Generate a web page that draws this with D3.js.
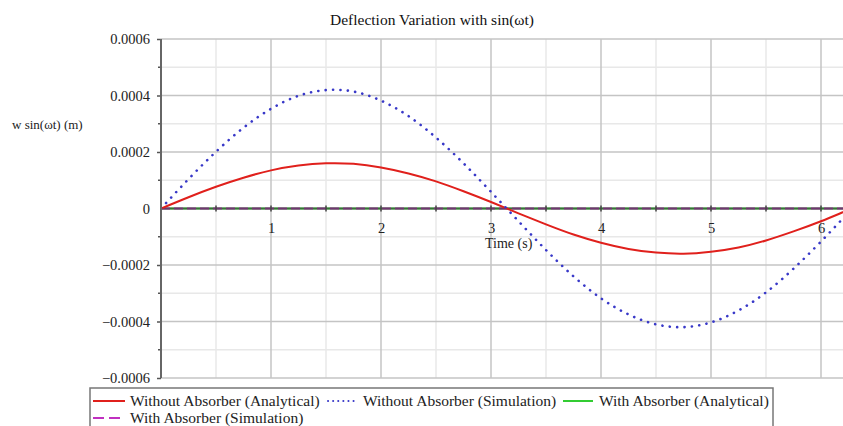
<!DOCTYPE html>
<html>
<head>
<meta charset="utf-8">
<script src="https://cdn.jsdelivr.net/npm/d3@7"></script>
<style>
  body { margin: 0; background: #fff; }
  svg, svg text { font-family: "Liberation Serif", "Times New Roman", "DejaVu Serif", serif; }
  svg { display: block; }
</style>
</head>
<body>
<svg id="chart" width="843" height="426"></svg>
<script>
// time samples (s)
const times = [0, 0.25, 0.5, 0.75, 1, 1.25, 1.5, 1.75, 2, 2.25, 2.5, 2.75, 3, 3.25,
               3.5, 3.75, 4, 4.25, 4.5, 4.75, 5, 5.25, 5.5, 5.75, 6, 6.25, 6.5];

// deflection values (m)
const noAbsAnalytical = [0, 0.000040, 0.000077, 0.000109, 0.000135, 0.000152, 0.000160,
  0.000158, 0.000145, 0.000124, 0.000096, 0.000061, 0.000023, -0.000017, -0.000056,
  -0.000092, -0.000121, -0.000143, -0.000156, -0.000160, -0.000153, -0.000138,
  -0.000113, -0.000081, -0.000045, -0.000005, 0.000034];
const noAbsSimulation = [0, 0.000104, 0.000201, 0.000286, 0.000353, 0.000399, 0.000419,
  0.000414, 0.000382, 0.000327, 0.000251, 0.000160, 0.000059, -0.000045, -0.000147,
  -0.000240, -0.000318, -0.000375, -0.000410, -0.000420, -0.000403, -0.000361,
  -0.000297, -0.000213, -0.000117, -0.000014, 0.000090];
const absAnalytical = [0, 0, 0, 0, 0, 0, 0, 0, 0, 0, 0, 0, 0, 0, 0, 0, 0, 0, 0, 0, 0, 0, 0, 0, 0, 0, 0];
const absSimulation = [0, 0, 0, 0, 0, 0, 0, 0, 0, 0, 0, 0, 0, 0, 0, 0, 0, 0, 0, 0, 0, 0, 0, 0, 0, 0, 0];

const xTicks = [1, 2, 3, 4, 5, 6];
const xMinorTicks = [0.5, 1.5, 2.5, 3.5, 4.5, 5.5];
const yTicks = [0.0006, 0.0004, 0.0002, 0, -0.0002, -0.0004, -0.0006];
const yTickLabels = ["0.0006", "0.0004", "0.0002", "0", "\u22120.0002", "\u22120.0004", "\u22120.0006"];
const yMinorTicks = [0.0005, 0.0003, 0.0001, -0.0001, -0.0003, -0.0005];

const seriesNames = ["Without Absorber (Analytical)", "Without Absorber (Simulation)",
                     "With Absorber (Analytical)", "With Absorber (Simulation)"];

const serif = "'Liberation Serif', 'Times New Roman', serif";

let chart = d3.select("#chart");

// scales
let x = d3.scaleLinear().domain([0, 2 * Math.PI]).range([161, 161 + 2 * Math.PI * 110]);
let y = d3.scaleLinear().domain([-0.0006, 0.0006]).range([378, 39]);

let plotRight = x.range()[1];

chart.append("defs").append("clipPath").attr("id", "plotclip")
  .append("rect")
  .attr("x", x(0)).attr("y", y(0.0006) - 2)
  .attr("width", plotRight - x(0)).attr("height", y(-0.0006) - y(0.0006) + 4);

// grid, minor first
let grid = chart.append("g");
grid.selectAll(".vminor").data(xMinorTicks).enter().append("line")
  .attr("x1", d => x(d)).attr("x2", d => x(d))
  .attr("y1", y(0.0006)).attr("y2", y(-0.0006))
  .attr("stroke", "#e8e8e8").attr("stroke-width", 1.5);
grid.selectAll(".hminor").data(yMinorTicks).enter().append("line")
  .attr("x1", x(0)).attr("x2", plotRight)
  .attr("y1", d => y(d)).attr("y2", d => y(d))
  .attr("stroke", "#e8e8e8").attr("stroke-width", 1.5);
grid.selectAll(".vmajor").data(xTicks).enter().append("line")
  .attr("x1", d => x(d)).attr("x2", d => x(d))
  .attr("y1", y(0.0006)).attr("y2", y(-0.0006))
  .attr("stroke", "#c4c4c4").attr("stroke-width", 1.5);
grid.selectAll(".hmajor").data(yTicks).enter().append("line")
  .attr("x1", x(0)).attr("x2", plotRight)
  .attr("y1", d => y(d)).attr("y2", d => y(d))
  .attr("stroke", "#c4c4c4").attr("stroke-width", 1.5);

// y axis
let yAxis = d3.axisLeft(y)
  .tickValues(yTicks)
  .tickSize(4)
  .tickPadding(7)
  .tickFormat((d, i) => yTickLabels[i]);
let yAxisGroup = chart.append("g")
  .attr("transform", "translate(" + x(0) + ",0)")
  .call(yAxis)
  .attr("font-family", serif);
yAxisGroup.select(".domain").remove();
yAxisGroup.selectAll(".tick line").attr("stroke", "#555").attr("stroke-width", 1.5);
yAxisGroup.selectAll(".tick text")
  .style("font-size", "14.5px").attr("fill", "#222");
yAxisGroup.selectAll(".tick").filter(d => d === 0).select("line").remove();
chart.append("g").selectAll("line").data(yMinorTicks).enter().append("line")
  .attr("x1", x(0) - 3).attr("x2", x(0))
  .attr("y1", d => y(d)).attr("y2", d => y(d))
  .attr("stroke", "#555").attr("stroke-width", 1.5);

// series lines
let line = d3.line()
  .x((d, i) => x(times[i]))
  .y(d => y(d))
  .curve(d3.curveNatural);

let lines = chart.append("g").attr("clip-path", "url(#plotclip)");
lines.append("path").datum(absAnalytical)
  .attr("d", line).attr("fill", "none")
  .attr("stroke", "#33cc33").attr("stroke-width", 2);
lines.append("path").datum(absSimulation)
  .attr("d", line).attr("fill", "none")
  .attr("stroke", "#c030c0").attr("stroke-width", 2)
  .attr("stroke-dasharray", "9,4");

// x axis along zero
let xAxis = d3.axisBottom(x)
  .tickValues(xTicks)
  .tickSize(0)
  .tickPadding(14)
  .tickFormat(d3.format("d"));
let xAxisGroup = chart.append("g")
  .attr("transform", "translate(0," + y(0) + ")")
  .call(xAxis)
  .attr("font-family", serif);
xAxisGroup.select(".domain").remove();
xAxisGroup.selectAll(".tick text")
  .style("font-size", "14.5px").attr("fill", "#222");
chart.append("line")
  .attr("x1", x(0)).attr("x2", plotRight)
  .attr("y1", y(0)).attr("y2", y(0))
  .attr("stroke", "#3a3a3a").attr("stroke-width", 2).attr("opacity", 0.6);
chart.append("g").selectAll("line").data(xTicks.concat(xMinorTicks)).enter().append("line")
  .attr("x1", d => x(d)).attr("x2", d => x(d))
  .attr("y1", y(0) - 3).attr("y2", y(0) + 3)
  .attr("stroke", "#444").attr("stroke-width", 1.5);

lines = chart.append("g").attr("clip-path", "url(#plotclip)");
lines.append("path").datum(noAbsAnalytical)
  .attr("d", line).attr("fill", "none")
  .attr("stroke", "#e0201c").attr("stroke-width", 2);
lines.append("path").datum(noAbsSimulation)
  .attr("d", line).attr("fill", "none")
  .attr("stroke", "#3838c8").attr("stroke-width", 2.6)
  .attr("stroke-linecap", "round")
  .attr("stroke-dasharray", "0.1,7.3");

// y axis line
chart.append("line")
  .attr("x1", x(0)).attr("x2", x(0))
  .attr("y1", y(0.0006)).attr("y2", y(-0.0006))
  .attr("stroke", "#666").attr("stroke-width", 2);

// titles
chart.append("text")
  .text("Deflection Variation with sin(\u03c9t)")
  .attr("x", 432).attr("y", 25)
  .style("font-size", "15.5px").style("text-anchor", "middle").style("fill", "#111");
chart.append("text")
  .text("w sin(\u03c9t) (m)")
  .attr("x", 12).attr("y", 129)
  .style("font-size", "13px").style("fill", "#222");
chart.append("text")
  .text("Time (s)")
  .attr("x", 485).attr("y", 248)
  .style("font-size", "14px").style("fill", "#222");

// legend
let legend = chart.append("g");
legend.append("rect")
  .attr("x", 90).attr("y", 388).attr("width", 683).attr("height", 50)
  .attr("fill", "#fff").attr("stroke", "#777").attr("stroke-width", 1.5);

let legendItems = [
  { name: seriesNames[0], x1: 93, x2: 125, tx: 130, y: 401, color: "#e0201c", dash: null, w: 2 },
  { name: seriesNames[1], x1: 328, x2: 354, tx: 363, y: 401, color: "#3838c8", dash: "0.1,5", w: 2 },
  { name: seriesNames[2], x1: 563, x2: 593, tx: 599, y: 401, color: "#33cc33", dash: null, w: 2 },
  { name: seriesNames[3], x1: 93, x2: 125, tx: 130, y: 418, color: "#c030c0", dash: "11,5", w: 2 }
];
legendItems.forEach(function(d) {
  legend.append("line")
    .attr("x1", d.x1).attr("x2", d.x2)
    .attr("y1", d.y).attr("y2", d.y)
    .attr("stroke", d.color).attr("stroke-width", d.w)
    .attr("stroke-linecap", d.dash && d.dash.startsWith("0.1") ? "round" : "butt")
    .attr("stroke-dasharray", d.dash);
  legend.append("text")
    .text(d.name)
    .attr("x", d.tx).attr("y", d.y + 5)
    .style("font-size", "15.5px").style("fill", "#222");
});
</script>
</body>
</html>
